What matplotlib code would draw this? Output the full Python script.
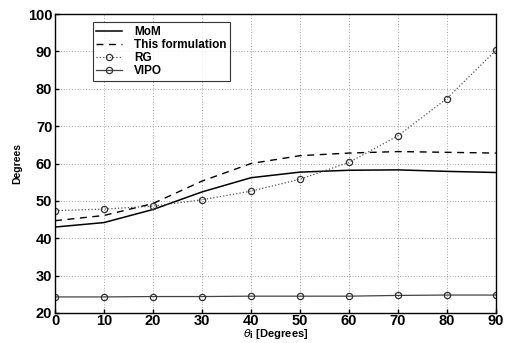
import matplotlib
matplotlib.use("Agg")
import matplotlib.pyplot as plt

plt.rcParams['font.family'] = ['Liberation Sans', 'DejaVu Sans']

theta = [0, 10, 20, 30, 40, 50, 60, 70, 80, 90]
mom = [43.0, 44.2, 47.7, 52.4, 56.2, 57.7, 58.2, 58.3, 57.9, 57.6]
formulation = [44.7, 46.1, 49.3, 55.3, 60.0, 62.1, 62.8, 63.2, 63.0, 62.8]
rg = [47.4, 47.8, 48.6, 50.3, 52.6, 55.8, 60.3, 67.4, 77.4, 90.3]
vipo = [24.3, 24.3, 24.4, 24.4, 24.5, 24.5, 24.5, 24.7, 24.8, 24.8]

xticks = [0, 10, 20, 30, 40, 50, 60, 70, 80, 90]
yticks = [20, 30, 40, 50, 60, 70, 80, 90, 100]

fig = plt.figure(figsize=(5.05, 3.43), dpi=100)
ax = fig.add_axes([0.109, 0.0875, 0.873, 0.8715])

ax.plot(theta, mom, color='black', lw=1.1, label='MoM')
ax.plot(theta, formulation, color='black', lw=1.0, ls=(0, (5, 4)), label='This formulation')
ax.plot(theta, rg, color='#555555', lw=0.9, ls=':', marker='o', ms=4.5,
        mfc='none', mec='#333333', mew=0.9, label='RG')
ax.plot(theta, vipo, color='#444444', lw=0.9, ls='-', marker='o', ms=4.5,
        mfc='none', mec='#333333', mew=0.9, label='VIPO')

ax.set_xlim(0, 90)
ax.set_ylim(20, 100)
ax.set_xticks(xticks)
ax.set_yticks(yticks)
ax.tick_params(direction='in', length=3, width=1, labelsize=10.5, pad=2)
ax.tick_params(axis='x', pad=1)
for lab in ax.get_xticklabels() + ax.get_yticklabels():
    lab.set_fontweight('bold')
ax.grid(True, color='#555555', ls=(0, (1, 3)), lw=0.5)
for s in ax.spines.values():
    s.set_linewidth(1.0)

ax.set_xlabel(r'$\theta_\mathbf{i}$ [Degrees]', fontsize=8, fontweight='bold', labelpad=-1)
ax.set_ylabel('Degrees', fontsize=7.5, fontweight='bold', labelpad=4)

leg = ax.legend(loc='upper left', bbox_to_anchor=(0.08, 0.98),
                prop={'weight': 'bold', 'size': 8.5}, frameon=True, fancybox=False,
                edgecolor='black', handlelength=2.2, borderpad=0.3, labelspacing=0.1,
                handletextpad=1.0, borderaxespad=0.2)
leg.get_frame().set_linewidth(0.8)

fig.savefig('out.png', dpi=100)
